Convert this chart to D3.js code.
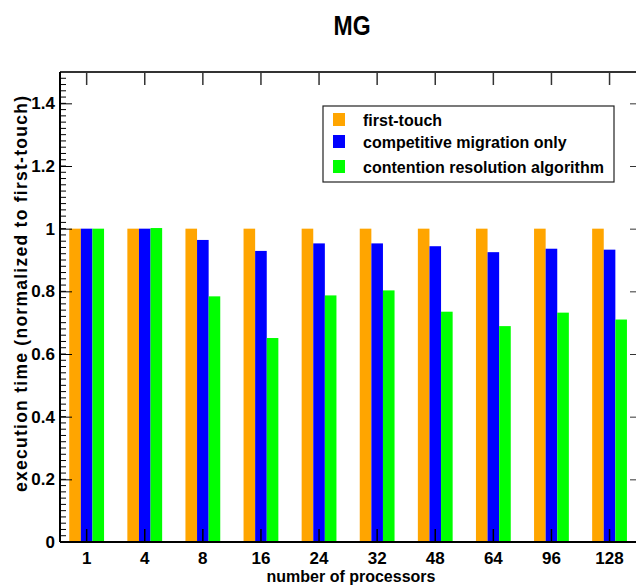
<!DOCTYPE html>
<html>
<head>
<meta charset="utf-8">
<script src="https://cdn.jsdelivr.net/npm/d3@7"></script>
<style>
  body { margin: 0; background: #fff; }
  text { font-family: "Liberation Sans", Arial, sans-serif; font-weight: bold; fill: #000; }
</style>
</head>
<body>
<svg id="chart"></svg>
<script>
// chart data
let categories = ['1', '4', '8', '16', '24', '32', '48', '64', '96', '128'];
let seriesNames = ['first-touch', 'competitive migration only', 'contention resolution algorithm'];
let firstTouch = [1, 1, 1, 1, 1, 1, 1, 1, 1, 1];
let competitive = [1.0, 1.0, 0.964, 0.929, 0.953, 0.953, 0.944, 0.925, 0.936, 0.933];
let contention = [1.0, 1.002, 0.784, 0.651, 0.787, 0.803, 0.735, 0.689, 0.732, 0.710];
let yTicks = [0, 0.2, 0.4, 0.6, 0.8, 1, 1.2, 1.4];
let colors = ['#FFA500', '#0000FF', '#00FF00'];

let width = 636;
let height = 587;
let plotLeft = 60, plotRight = 642, plotTop = 72, plotBottom = 542;

let svg = d3.select('#chart').attr('width', width).attr('height', height);

let yScale = d3.scaleLinear().domain([0, 1.5]).range([plotBottom, plotTop]);
let xScale = d3.scaleBand().domain(categories).range([57.6, 638.6]).padding(0);
let barW = 11.6;
let subScale = d3.scaleBand().domain(seriesNames).range([-1.5 * barW, 1.5 * barW]);

let allSeries = [firstTouch, competitive, contention];

// bars
allSeries.forEach((vals, si) => {
    svg.append('g').selectAll('rect')
        .data(vals)
        .enter()
        .append('rect')
        .attr('x', (d, i) => xScale(categories[i]) + xScale.bandwidth() / 2 + subScale(seriesNames[si]))
        .attr('y', d => yScale(d))
        .attr('width', subScale.bandwidth())
        .attr('height', d => plotBottom - yScale(d))
        .style('fill', colors[si]);
});

// y minor ticks (left)
let minor = d3.range(0, 1.5001, 0.02);
svg.append('g').selectAll('line')
    .data(minor)
    .enter()
    .append('line')
    .attr('x1', plotLeft).attr('x2', plotLeft + 6)
    .attr('y1', d => yScale(d)).attr('y2', d => yScale(d))
    .style('stroke', '#000').style('stroke-width', 1);

// y axis left, major ticks inward
let yAxis = d3.axisRight(yScale).tickValues(yTicks).tickSize(12).tickFormat(d3.format('~g'));
let gy = svg.append('g').attr('transform', 'translate(' + plotLeft + ',0)').call(yAxis);
gy.select('.domain').remove();
gy.selectAll('text')
    .attr('x', -5).attr('text-anchor', 'end')
    .style('font-size', '17px');

// right axis ticks
let gyr = svg.append('g').attr('transform', 'translate(' + plotRight + ',0)')
    .call(d3.axisLeft(yScale).tickValues(yTicks).tickSize(12).tickFormat(''));
gyr.select('.domain').remove();
gyr.selectAll('line').style('stroke', '#333');

// x axis bottom, ticks inward
let xAxis = d3.axisTop(xScale).tickSize(13).tickFormat('');
let gx = svg.append('g').attr('transform', 'translate(0,' + plotBottom + ')').call(xAxis);
gx.select('.domain').remove();
gx.selectAll('line').style('stroke-width', 1.5);

svg.append('g').selectAll('text')
    .data(categories)
    .enter()
    .append('text')
    .attr('x', d => xScale(d) + xScale.bandwidth() / 2)
    .attr('y', 564)
    .attr('text-anchor', 'middle')
    .style('font-size', '17px')
    .text(d => d);

// top axis ticks
let gxt = svg.append('g').attr('transform', 'translate(0,' + plotTop + ')')
    .call(d3.axisBottom(xScale).tickSize(13).tickFormat(''));
gxt.select('.domain').remove();
gxt.selectAll('line').style('stroke', '#333').style('stroke-width', 1.5);

// frame
svg.append('line').attr('x1', plotLeft).attr('x2', plotRight).attr('y1', plotTop).attr('y2', plotTop)
    .style('stroke', '#333').style('stroke-width', 2);
svg.append('line').attr('x1', plotLeft).attr('x2', plotLeft).attr('y1', plotTop).attr('y2', plotBottom)
    .style('stroke', '#000').style('stroke-width', 2);
svg.append('line').attr('x1', plotLeft).attr('x2', plotRight).attr('y1', plotBottom).attr('y2', plotBottom)
    .style('stroke', '#000').style('stroke-width', 2);

// title
svg.append('text')
    .attr('transform', 'translate(352,35) scale(0.92,1.1)')
    .attr('text-anchor', 'middle')
    .style('font-size', '25px')
    .text('MG');

// axis labels
svg.append('text')
    .attr('x', 351).attr('y', 582)
    .attr('text-anchor', 'middle')
    .style('font-size', '16px')
    .text('number of processors');

svg.append('text')
    .attr('transform', 'translate(27,294) rotate(-90)')
    .attr('text-anchor', 'middle')
    .attr('textLength', 396)
    .attr('lengthAdjust', 'spacing')
    .style('font-size', '17.5px')
    .text('execution time (normalized to first-touch)');

// legend
let legend = svg.append('g').attr('transform', 'translate(323,106)');
legend.append('rect')
    .attr('width', 291).attr('height', 76)
    .style('fill', '#fff').style('stroke', '#222').style('stroke-width', 1.2);
let rowsY = [14, 36, 61];
seriesNames.forEach((name, i) => {
    legend.append('rect')
        .attr('x', 10).attr('y', rowsY[i] - 7)
        .attr('width', 12).attr('height', 13)
        .style('fill', colors[i]);
    legend.append('text')
        .attr('x', 40).attr('y', rowsY[i] + 6)
        .style('font-size', '16px')
        .text(name);
});
</script>
</body>
</html>
